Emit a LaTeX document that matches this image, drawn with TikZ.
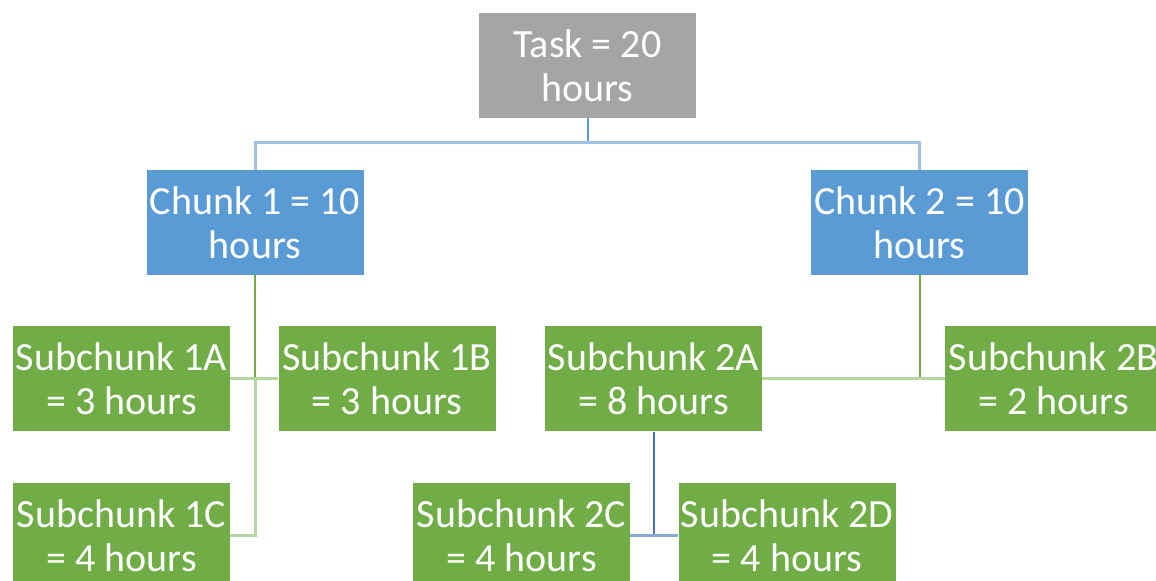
\documentclass[tikz,border=0pt]{standalone}
\usepackage{fontspec}
\setmainfont{Carlito}

\definecolor{taskgray}{HTML}{A5A5A5}
\definecolor{chunkblue}{HTML}{5B9BD5}
\definecolor{subgreen}{HTML}{70AD47}
\definecolor{paleblue}{HTML}{9DC3E6}
\definecolor{palegreen}{HTML}{B5D6A0}
\definecolor{deepblue}{HTML}{4472C4}

\begin{document}
\begin{tikzpicture}[x=0.5pt, y=-0.5pt,
    box/.style={minimum width=108.5pt, minimum height=52.5pt, inner sep=0pt,
        align=center, text=white, font=\fontsize{20}{22}\selectfont},
    taskbox/.style={box, fill=taskgray},
    chunkbox/.style={box, fill=chunkblue},
    subbox/.style={box, fill=subgreen},
    stem/.style={line width=1pt},
    bar/.style={line width=1.5pt}]
    % Frame of the picture (boxes at the edge are cut off)
    \clip (0,0) rectangle (1156,581);

    % Task
    \node[taskbox] (task) at (587.5,65.5) {Task = 20\\hours};

    % Chunks
    \node[chunkbox] (c1) at (255,222.5) {Chunk 1 = 10\\hours};
    \node[chunkbox] (c2) at (919.5,222.5) {Chunk 2 = 10\\hours};

    % Subchunks, first row
    \node[subbox] (s1a) at (121.5,379) {Subchunk 1A\\= 3 hours};
    \node[subbox] (s1b) at (387,379) {Subchunk 1B\\= 3 hours};
    \node[subbox] (s2a) at (653.5,379) {Subchunk 2A\\= 8 hours};
    \node[subbox] (s2b) at (1053.5,379) {Subchunk 2B\\= 2 hours};

    % Subchunks, second row
    \node[subbox] (s1c) at (121.5,535.5) {Subchunk 1C\\= 4 hours};
    \node[subbox] (s2c) at (521.5,535.5) {Subchunk 2C\\= 4 hours};
    \node[subbox] (s2d) at (787,535.5) {Subchunk 2D\\= 4 hours};

    % Junction points
    \coordinate (bus) at (587.5,143);
    \coordinate (j1) at (255,379);
    \coordinate (j2) at (919.5,379);
    \coordinate (j3) at (653.5,535.5);

    % Task to chunks
    \draw[stem, chunkblue] (task.south) -- (bus);
    \draw[bar, paleblue] (c1.north) |- (bus) -| (c2.north);

    % Chunk 1 to its subchunks
    \draw[stem, subgreen] (c1.south) -- (j1);
    \draw[bar, palegreen] (s1a.east) -- (s1b.west);
    \draw[bar, palegreen] (j1) |- (s1c.east);

    % Chunk 2 to its subchunks
    \draw[stem, subgreen] (c2.south) -- (j2);
    \draw[bar, palegreen] (s2a.east) -- (s2b.west);

    % Subchunk 2A split
    \draw[stem, deepblue] (s2a.south) -- (j3);
    \draw[bar, paleblue!70!deepblue] (s2c.east) -- (s2d.west);
\end{tikzpicture}
\end{document}
